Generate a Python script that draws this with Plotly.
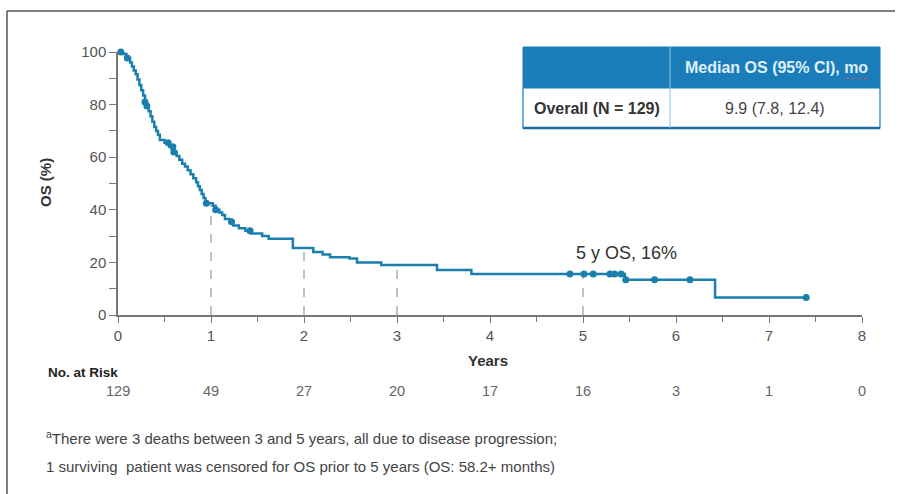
import plotly.graph_objects as go
import numpy as np

# ---- data ----
step_years = [0, 0.06, 0.09, 0.13, 0.15, 0.17, 0.19, 0.21, 0.23, 0.25, 0.27, 0.29, 0.31,
              0.33, 0.35, 0.37, 0.39, 0.41, 0.43, 0.45, 0.50, 0.55, 0.60, 0.63, 0.66,
              0.69, 0.72, 0.75, 0.78, 0.81, 0.84, 0.86, 0.88, 0.90, 0.92, 0.94, 1.02,
              1.05, 1.09, 1.12, 1.15, 1.20, 1.24, 1.30, 1.37, 1.43, 1.55, 1.62, 1.88,
              2.10, 2.20, 2.28, 2.49, 2.57, 2.83, 3.43, 3.80, 5.45, 6.42, 7.40]
step_os = [100, 99.2, 97.7, 96, 94.5, 93, 91.5, 89.5, 87.5, 85.5, 83.5, 81, 79.5,
           77.5, 75.5, 73.5, 71.5, 70, 68.5, 66.5, 65.5, 64, 62, 60.5, 59,
           57.5, 56.5, 55, 53.5, 52, 50.5, 49, 47.5, 46, 44.5, 42.5, 41.5,
           40, 39, 38, 36.5, 35.5, 34, 33, 32, 31, 30, 29, 25.5,
           24, 23, 22, 21.5, 20, 19, 17.1, 15.6, 13.4, 6.7, 6.7]
censor_years = [0.03, 0.10, 0.29, 0.31, 0.54, 0.59, 0.60, 0.95, 1.05, 1.22, 1.42,
                4.86, 5.01, 5.11, 5.29, 5.34, 5.41, 5.46, 5.77, 6.15, 7.40]
landmark_years = [1, 2, 3, 5]
risk_years = [0, 1, 2, 3, 4, 5, 6, 7, 8]
risk_counts = [129, 49, 27, 20, 17, 16, 3, 1, 0]
table_header = "Median OS (95% CI), mo"
table_row_label = "Overall (N = 129)"
table_row_value = "9.9 (7.8, 12.4)"
annotation_text = "5 y OS, 16%"
footnote_lines = ["<sup>a</sup>There were 3 deaths between 3 and 5 years, all due to disease progression;",
                  "1 surviving  patient was censored for OS prior to 5 years (OS: 58.2+ months)"]

# ---- helpers ----
def surv_at(t):
    idx = np.searchsorted(step_years, t, side="right") - 1
    return step_os[max(idx, 0)]

W, H = 904, 494
L, R, T, B = 118, 862, 52, 315
def px(x):
    return (x - L) / (R - L)
def py(y):
    return (B - y) / (B - T)

LINE = "#1b7fae"
SANS = "Liberation Sans, Arial, sans-serif"

fig = go.Figure()
fig.add_trace(go.Scatter(x=step_years, y=step_os, mode="lines", line_shape="hv",
                         line=dict(color=LINE, width=2.5), cliponaxis=False,
                         hoverinfo="skip", showlegend=False))
fig.add_trace(go.Scatter(x=censor_years, y=[surv_at(t) for t in censor_years],
                         mode="markers", marker=dict(color=LINE, size=7, symbol="circle"),
                         cliponaxis=False, showlegend=False))

shapes = []
for t in landmark_years:
    shapes.append(dict(type="line", xref="x", yref="y", x0=t, x1=t, y0=0, y1=surv_at(t) - 0.8,
                       line=dict(color="#9a9a9a", width=1.2, dash="dash"), layer="below"))

# frame
shapes.append(dict(type="line", xref="paper", yref="paper", x0=px(7), x1=px(7), y0=py(11), y1=py(494),
                   line=dict(color="#555", width=1.5)))
shapes.append(dict(type="line", xref="paper", yref="paper", x0=px(7), x1=px(895), y0=py(11), y1=py(11),
                   line=dict(color="#555", width=1.5)))

# table
TBL = "#1a7dba"
shapes.append(dict(type="rect", xref="paper", yref="paper", x0=px(523), x1=px(880), y0=py(88), y1=py(47),
                   fillcolor=TBL, line=dict(color=TBL, width=1)))
shapes.append(dict(type="rect", xref="paper", yref="paper", x0=px(523), x1=px(880), y0=py(128), y1=py(88),
                   fillcolor="white", line=dict(color=TBL, width=1.2)))
shapes.append(dict(type="line", xref="paper", yref="paper", x0=px(523), x1=px(880), y0=py(128), y1=py(128),
                   line=dict(color="#1a6a9a", width=2.5)))
shapes.append(dict(type="line", xref="paper", yref="paper", x0=px(670), x1=px(670), y0=py(128), y1=py(47),
                   line=dict(color="#8cc3e4", width=1)))
# spell-check style underline under "mo"
shapes.append(dict(type="line", xref="paper", yref="paper", x0=px(846), x1=px(867), y0=py(78.5), y1=py(78.5),
                   line=dict(color="#d9534f", width=1, dash="dot")))

def ann(x, y, text, size, color, xanchor="center", family=SANS, **kw):
    d = dict(x=x, y=y, xref="paper", yref="paper", text=text, showarrow=False,
             xanchor=xanchor, yanchor="middle", font=dict(family=family, size=size, color=color))
    d.update(kw)
    return d

annotations = []
annotations.append(ann(px(776), py(68), "<b>" + table_header + "</b>", 16, "#dff0fa"))
annotations.append(ann(px(597), py(108), "<b>" + table_row_label + "</b>", 16, "#333"))
annotations.append(ann(px(775), py(108), table_row_value, 16, "#444"))
annotations.append(ann(px(626), py(253), annotation_text, 18, "#333"))
annotations.append(ann(px(488), py(360), "<b>Years</b>", 15, "#333"))
annotations.append(ann(px(45), py(183), "<b>OS (%)</b>", 15, "#333", textangle=-90))
annotations.append(ann(px(46), py(372), "<b>No. at Risk</b>", 13.5, "#222", xanchor="left"))
for yr, n in zip(risk_years, risk_counts):
    annotations.append(dict(x=yr, y=py(391), xref="x", yref="paper", text=str(n), showarrow=False,
                            xanchor="center", yanchor="middle",
                            font=dict(family=SANS, size=14.5, color="#666")))
for i, line in enumerate(footnote_lines):
    annotations.append(ann(px(44), py(437 + 29 * i), line, 15, "#444", xanchor="left"))

fig.update_layout(
    width=W, height=H,
    margin=dict(l=L, r=W - R, t=T, b=H - B, autoexpand=False),
    paper_bgcolor="white", plot_bgcolor="white",
    showlegend=False,
    shapes=shapes, annotations=annotations,
    xaxis=dict(range=[0, 8], tickvals=risk_years, showgrid=False, zeroline=False,
               showline=True, linecolor="#777", linewidth=1.5,
               ticks="outside", ticklen=6, tickcolor="#777", tickwidth=1.2,
               minor=dict(dtick=0.5, ticks="outside", ticklen=5, tickcolor="#777", showgrid=False),
               tickfont=dict(family=SANS, size=15, color="#555"), fixedrange=True),
    yaxis=dict(range=[0, 100], tickvals=[0, 20, 40, 60, 80, 100], showgrid=False, zeroline=False,
               showline=True, linecolor="#777", linewidth=1.5,
               ticks="outside", ticklen=7, tickcolor="#777", tickwidth=1.2,
               minor=dict(dtick=10, ticks="outside", ticklen=7, tickcolor="#777", showgrid=False),
               tickfont=dict(family=SANS, size=15, color="#555"), fixedrange=True),
)

fig.write_html("out.html", config={"displayModeBar": False},
               post_script="document.body.style.margin='0';document.body.style.overflow='hidden';")
